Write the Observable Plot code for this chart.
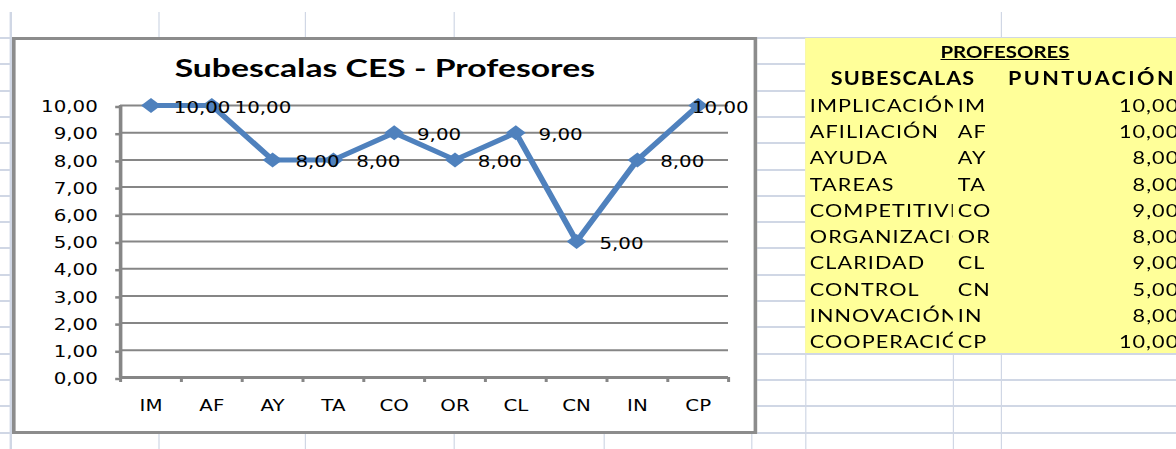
<!DOCTYPE html>
<html><head><meta charset="utf-8">
<script src="https://cdn.jsdelivr.net/npm/d3@7"></script>
<script src="https://cdn.jsdelivr.net/npm/@observablehq/plot@0.6"></script>
<style>
html,body{margin:0;padding:0;background:#fff;width:1176px;height:449px;overflow:hidden;}
#page{position:relative;width:980px;height:449px;transform:scaleX(1.2);transform-origin:0 0;}
#grid{position:absolute;left:0;top:0;width:980px;height:449px;}
.vl{position:absolute;width:1.25px;background:#d0d7e5;}
.hl{position:absolute;left:0;width:1000px;height:2px;background:#d0d7e5;}
#frame{position:absolute;left:10px;top:37px;width:615px;height:391px;border:3px solid #8c8c8c;background:#fff;}
#title{position:absolute;left:0;right:0;top:16px;text-align:center;font:700 24px/24px Lato, sans-serif;color:#000;white-space:nowrap;}
#title span{display:inline-block;transform:scaleX(1.17);transform-origin:50% 50%;}
#chart{position:absolute;left:0;top:0;}
#table{position:absolute;left:670.8px;top:38px;width:330px;height:315px;background:#ffff99;font-family:Lato, sans-serif;font-size:18px;color:#000;}
.cell{position:absolute;height:26.3px;line-height:26.3px;white-space:nowrap;overflow:hidden;padding-top:1px;box-sizing:border-box;letter-spacing:0.9px;}
.b{font-weight:700;}
</style></head>
<body><div id="page"><div id="grid"></div><div id="frame"><div id="title"></div></div><div id="chart"></div><div id="table"></div></div>
<script>
// ---- data ----
const chartTitle = "Subescalas CES - Profesores";
const tableTitle = "PROFESORES";
const headers = ["SUBESCALAS", "PUNTUACIÓN"];
const subescalas = ["IMPLICACIÓN","AFILIACIÓN","AYUDA","TAREAS","COMPETITIVIDAD","ORGANIZACIÓN","CLARIDAD","CONTROL","INNOVACIÓN","COOPERACIÓN"];
const codes = ["IM","AF","AY","TA","CO","OR","CL","CN","IN","CP"];
const puntuacion = [10,10,8,8,9,8,9,5,8,10];
const yTicks = [0,1,2,3,4,5,6,7,8,9,10];

const fmt = v => v.toFixed(2).replace(".", ",");

// ---- spreadsheet grid ----
const grid = document.getElementById("grid");
const rowH = 26.3, row0 = 38;
for (let k = 0; k <= 15; k++) {
  const d = document.createElement("div"); d.className = "hl";
  d.style.top = (row0 + k * rowH - 1) + "px"; grid.appendChild(d);
}
[[10,12],[158,12],[305,12],[453,12],[1001,12],[603,38],[751,38],[805,38],[953,38]].forEach(([xv, y0]) => {
  const d = document.createElement("div"); d.className = "vl";
  d.style.left = (xv / 1.2) + "px"; d.style.top = y0 + "px"; d.style.height = (449 - y0) + "px";
  grid.appendChild(d);
});

// ---- title ----
const ts = document.createElement("span"); ts.textContent = chartTitle;
document.getElementById("title").appendChild(ts);

// ---- chart ----
const rows = codes.map((c, i) => ({i, code: c, v: puntuacion[i]}));
const gray = "#868686", blue = "#4F81BD";
const n = codes.length;
const wideDiamond = {draw(ctx) { ctx.moveTo(0,-7.5); ctx.lineTo(8.3,0); ctx.lineTo(0,7.5); ctx.lineTo(-8.3,0); ctx.closePath(); }};
const chart = Plot.plot({
  width: 640, height: 449,
  marginLeft: 100, marginRight: 33.33, marginTop: 105, marginBottom: 72,
  style: {background: "transparent", fontFamily: "'DejaVu Sans', Verdana, sans-serif", fontSize: "16.5px", color: "#000", overflow: "visible"},
  x: {type: "linear", domain: [-0.5, n - 0.5], label: null},
  y: {domain: [0, 10], label: null},
  marks: [
    Plot.ruleY(yTicks.filter(t => t > 0), {stroke: gray, strokeWidth: 2}),
    Plot.axisY({ticks: yTicks, tickSize: 4, tickPadding: 15, tickFormat: fmt, stroke: gray, strokeWidth: 2.5, fill: "#000", dy: 1.5, label: null}),
    Plot.axisX({ticks: d3.range(-0.5, n), tickSize: 5, stroke: gray, strokeWidth: 2.5, fill: "none", label: null}),
    Plot.axisX({ticks: d3.range(n), tickSize: 0, tickPadding: 22, tickFormat: i => codes[i], fill: "#000", label: null}),
    Plot.ruleX([-0.5], {y1: 0, y2: 10, stroke: gray, strokeWidth: 3}),
    Plot.ruleY([0], {stroke: gray, strokeWidth: 3}),
    Plot.line(rows, {x: "i", y: "v", stroke: blue, strokeWidth: 5}),
    Plot.dot(rows, {x: "i", y: "v", symbol: wideDiamond, fill: blue, stroke: "none"}),
    Plot.text(rows.slice(0, -1), {x: "i", y: "v", text: d => fmt(d.v), textAnchor: "start", dx: 19, dy: 2, fill: "#000"}),
    Plot.text(rows.slice(-1), {x: "i", y: "v", text: d => fmt(d.v), textAnchor: "end", dx: 42, dy: 2, fill: "#000"})
  ]
});
document.getElementById("chart").appendChild(chart);

// ---- table ----
const table = document.getElementById("table");
const colA = 0, colB = 123.4, colC = 163.4, valRight = 312;
function cell(text, left, width, r, cls, align) {
  const d = document.createElement("div");
  d.className = "cell" + (cls ? " " + cls : "");
  d.style.left = left + "px"; d.style.width = width + "px";
  d.style.top = (r * rowH) + "px";
  d.style.textAlign = align || "left";
  d.textContent = text;
  table.appendChild(d);
  return d;
}
const t = cell(tableTitle, 0, 333.4, 0, "b", "center");
t.style.textDecoration = "underline"; t.style.fontSize = "17px"; t.style.letterSpacing = "0px";
cell(headers[0], 0, colC, 1, "b", "center");
const h2 = cell(headers[1], colC, 200, 1, "b", "left"); h2.style.paddingLeft = "5.8px"; h2.style.letterSpacing = "2px";
subescalas.forEach((s, i) => {
  const a = cell(s, colA, colB, i + 2); a.style.paddingLeft = "4px";
  const b = cell(codes[i], colB, colC - colB, i + 2); b.style.paddingLeft = "4px";
  cell(fmt(puntuacion[i]), colC, valRight - colC, i + 2, "", "right");
});
</script></body></html>
